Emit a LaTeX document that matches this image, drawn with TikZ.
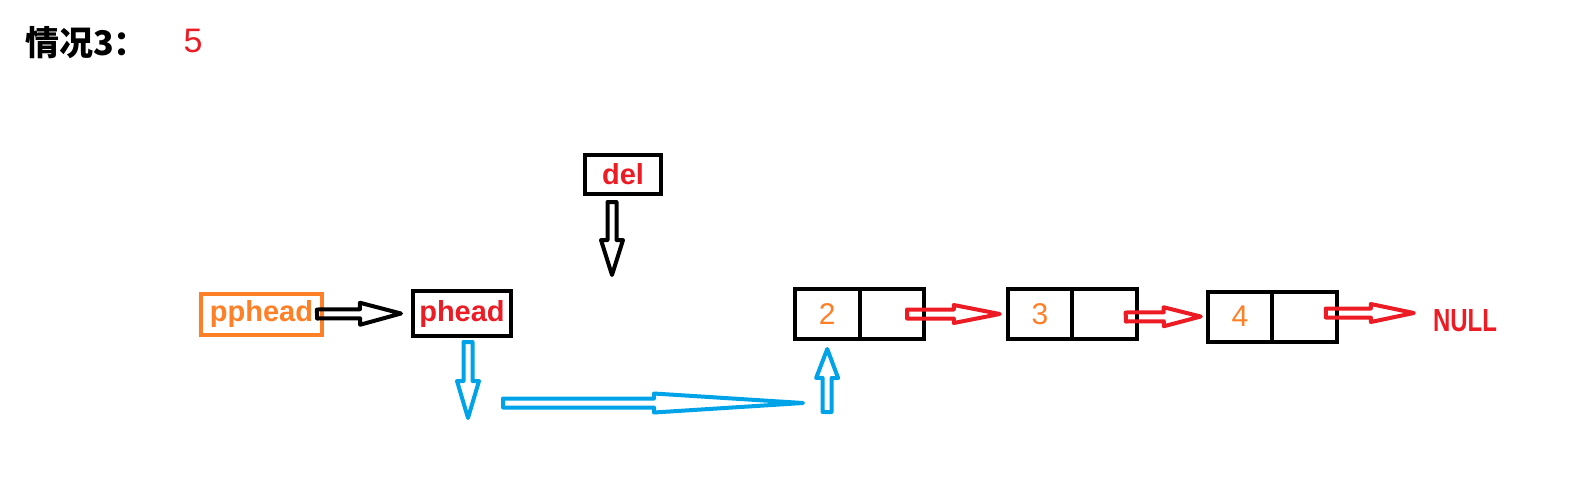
\documentclass[tikz,border=0pt]{standalone}
\usepackage{fontspec}
\usepackage{xcolor}
\usepackage{tikz}
\usetikzlibrary{calc,positioning}
\setmainfont{Liberation Sans}
\newfontfamily\cjkfont{Noto Sans CJK SC}
\newfontfamily\narrowfont[FakeStretch=0.75]{Liberation Sans}

\definecolor{pred}{RGB}{237,28,36}
\definecolor{porange}{RGB}{255,127,39}
\definecolor{pblue}{RGB}{0,162,232}

\newcommand\arrowhl{40pt}
\newcommand\arrowhw{11pt}
\newcommand\arrowsw{4.5pt}

\begin{document}
\begin{tikzpicture}[x=1pt,y=-1pt,
  head len/.store in=\arrowhl,
  head wid/.store in=\arrowhw,
  box/.style={draw,line width=4pt,inner sep=0pt,outer sep=0pt,
    font=\bfseries\fontsize{29}{29}\selectfont},
  cell/.style={draw,line width=4pt,inner sep=0pt,outer sep=0pt,
    minimum width=64.5pt,minimum height=50pt,text=porange,
    font=\fontsize{30}{30}\selectfont},
  hollow/.style={line width=4pt,line join=round,
    to path={let \p1=($(\tikztotarget)!\arrowhl!(\tikztostart)$) in
      ($(\tikztostart)!\arrowsw!90:(\tikztotarget)$)
      -- ($(\p1)!\arrowsw!90:(\tikztotarget)$)
      -- ($(\p1)!\arrowhw!90:(\tikztotarget)$)
      -- (\tikztotarget)
      -- ($(\p1)!\arrowhw!-90:(\tikztotarget)$)
      -- ($(\p1)!\arrowsw!-90:(\tikztotarget)$)
      -- ($(\tikztostart)!\arrowsw!-90:(\tikztotarget)$) -- cycle}}]

\useasboundingbox (0,0) rectangle (1588,499);

% title line
\node[anchor=west,inner sep=0pt,font=\fontsize{34}{34}\selectfont] (title) at (25,43)
  {\cjkfont\bfseries 情况3：};
\node[text=pred,inner sep=0pt,font=\fontsize{34}{34}\selectfont] (case) at (193,41) {5};

% pointers
\begin{scope}
    \node[box,draw=porange,text=porange,minimum width=121pt,minimum height=41pt]
      (pphead) at (261.5,314) {pphead};
    \node[box,text=pred,minimum width=98pt,minimum height=45pt]
      (phead) at (462,313.5) {phead};
    \node[box,text=pred,minimum width=76pt,minimum height=39pt]
      (del) at (623,174.5) {del};
    \coordinate (delTip) at (612,275);
    \draw[hollow,head len=41pt] ([xshift=-5pt]pphead.east) to ([xshift=-12pt]phead.west);
    \draw[hollow,head len=35pt] ([xshift=-11pt,yshift=-8pt]del.south) to (delTip);
\end{scope}

% the list 2 -> 3 -> 4 -> NULL
\begin{scope}
    \node[cell] (n2a) at (827.25,314) {2};
    \node[cell,right=0pt of n2a] (n2b) {};
    \node[cell] (n3a) at (1040,314) {3};
    \node[cell,right=0pt of n3a] (n3b) {};
    \node[cell] (n4a) at (1240,316.5) {4};
    \node[cell,right=0pt of n4a] (n4b) {};
    \node[text=pred,inner sep=0pt,font=\narrowfont\bfseries\fontsize{32}{32}\selectfont]
      (null) at (1465,321) {NULL};
    \draw[hollow,pred,head len=46pt,head wid=9pt]
      ([xshift=-17pt]n2b.east) to ([xshift=-8pt]n3a.west);
    \draw[hollow,pred,head len=37pt,head wid=9.5pt]
      ([xshift=-11pt,yshift=-3pt]n3b.east) to ([xshift=-7pt]n4a.west);
    \draw[hollow,pred,head len=43pt,head wid=9pt]
      ([xshift=-11pt,yshift=3.5pt]n4b.east) to ([xshift=-19pt,yshift=8pt]null.west);
\end{scope}

% new link phead -> 2
\begin{scope}[pblue]
    \coordinate (downTip) at (468,418);
    \coordinate (sideTail) at (503,403);
    \coordinate (sideTip) at (803,403);
    \coordinate (upTail) at (827,412);
    \draw[hollow,head len=37pt] ([xshift=6pt,yshift=-6pt]phead.south) to (downTip);
    \draw[hollow,head len=149pt,head wid=9.5pt] (sideTail) to (sideTip);
    \draw[hollow,head len=29pt] (upTail) to ([yshift=-10pt]n2a.south);
\end{scope}
\end{tikzpicture}
\end{document}
